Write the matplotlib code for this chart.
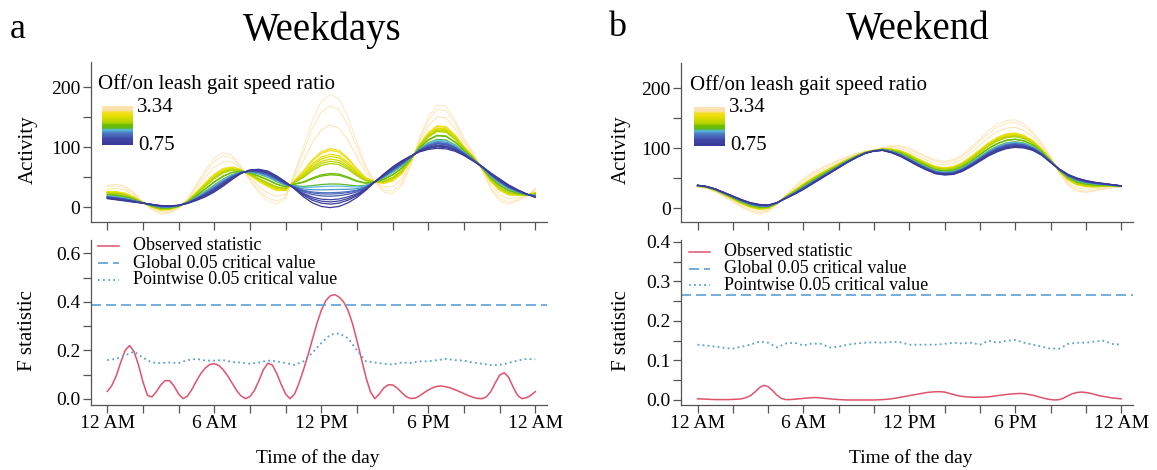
import numpy as np
import matplotlib
matplotlib.use("Agg")
import matplotlib.pyplot as plt
from matplotlib.colors import LinearSegmentedColormap

plt.rcParams["font.family"] = ["Liberation Serif", "DejaVu Serif"]

# hours of the day: half-hour grid for curves, quarter-hour for the F statistic
hours = np.arange(0, 24.5, 0.5)
hours_fine = np.arange(0, 24.25, 0.25)

# activity curves read at the two ends of the gait speed ratio
wd_low = [14, 12, 10, 8, 6.5, 4.5, 2.5, 2, 3, 6, 11, 17, 25, 35, 46, 56, 62, 63,
          60, 52, 42, 30, 17, 7, 1, -1, 1, 7, 16, 28, 42, 55, 67, 77, 85, 92,
          96, 98, 97, 93, 86, 77, 68, 57, 47, 37, 29, 22, 16]
wd_high = [36, 38, 35, 24, 8, -4, -12, -10, -2, 14, 38, 62, 82, 91, 86, 68, 44, 24,
           10, 5, 14, 58, 100, 145, 176, 188, 180, 150, 108, 68, 42, 25, 22, 35, 68, 115,
           150, 170, 168, 145, 115, 92, 62, 30, 10, 5, 10, 17, 32]
we_low = [38, 36, 32, 26, 20, 14, 9, 6, 5, 9, 16, 23, 31, 40, 49, 58, 67, 76,
          84, 91, 95, 96, 92, 86, 78, 70, 63, 57, 55, 56, 61, 69, 78, 87, 94, 99,
          101, 100, 96, 88, 76, 65, 56, 50, 46, 43, 41, 39, 37]
we_high = [35, 33, 27, 19, 10, 1, -6, -10, -6, 6, 22, 36, 49, 59, 67, 74, 80, 86,
           91, 95, 97, 101, 104, 104, 100, 93, 86, 80, 78, 81, 89, 101, 115, 129, 140, 146,
           147, 140, 127, 108, 86, 58, 38, 28, 26, 28, 31, 34, 35]

# off/on leash gait speed ratios of the dogs
ratios = [3.34, 3.08, 2.64, 2.10, 2.06, 1.97, 1.92, 1.86, 1.81, 1.76, 1.53,
          1.50, 1.29, 1.24, 1.16, 1.09, 1.06, 1.01, 0.93, 0.88, 0.83, 0.75]
ratio_min, ratio_max = 0.75, 3.34

# F statistics (observed on the quarter-hour grid, pointwise critical on the half-hour grid)
wd_obs = [0.031, 0.055, 0.095, 0.15, 0.2, 0.22, 0.195, 0.14, 0.07, 0.015, 0.008, 0.03,
          0.058, 0.076, 0.075, 0.052, 0.02, 0.001, 0.012, 0.04, 0.075, 0.105, 0.128, 0.142,
          0.145, 0.138, 0.12, 0.095, 0.065, 0.035, 0.012, 0.001, 0.01, 0.035, 0.075, 0.12,
          0.147, 0.14, 0.105, 0.06, 0.02, 0.001, 0.02, 0.065, 0.12, 0.18, 0.245, 0.31,
          0.365, 0.405, 0.425, 0.43, 0.42, 0.4, 0.365, 0.31, 0.24, 0.165, 0.09, 0.03,
          0.001, 0.02, 0.045, 0.058, 0.058, 0.045, 0.027, 0.01, 0.002, 0.003, 0.012, 0.025,
          0.037, 0.046, 0.052, 0.053, 0.05, 0.045, 0.038, 0.03, 0.022, 0.014, 0.007, 0.002,
          0.001, 0.008, 0.03, 0.065, 0.098, 0.108, 0.09, 0.05, 0.015, 0.001, 0.005, 0.015, 0.03]
wd_point = [0.16, 0.165, 0.18, 0.195, 0.17, 0.15, 0.148, 0.15, 0.148, 0.16, 0.165, 0.158,
            0.158, 0.16, 0.152, 0.15, 0.145, 0.15, 0.158, 0.155, 0.148, 0.14, 0.155, 0.19,
            0.23, 0.265, 0.27, 0.25, 0.20, 0.155, 0.15, 0.145, 0.142, 0.15, 0.148, 0.155,
            0.155, 0.16, 0.165, 0.16, 0.158, 0.15, 0.145, 0.14, 0.14, 0.148, 0.158, 0.165, 0.163]
wd_global = 0.388

we_obs = [0.003, 0.0025, 0.002, 0.0015, 0.001, 0.001, 0.001, 0.001, 0.0015, 0.002, 0.003, 0.006,
          0.011, 0.02, 0.031, 0.037, 0.034, 0.024, 0.012, 0.004, 0.001, 0.001, 0.002, 0.003,
          0.004, 0.005, 0.006, 0.006, 0.005, 0.004, 0.003, 0.002, 0.001, 0.0005, 0.0, 0.0,
          0.0, 0.0, 0.0, 0.0, 0.0, 0.0005, 0.001, 0.002, 0.003, 0.005, 0.007, 0.009,
          0.011, 0.013, 0.015, 0.017, 0.019, 0.02, 0.021, 0.021, 0.02, 0.017, 0.014, 0.011,
          0.009, 0.008, 0.007, 0.007, 0.007, 0.0075, 0.008, 0.0095, 0.011, 0.0125, 0.014, 0.015,
          0.016, 0.0165, 0.016, 0.014, 0.012, 0.009, 0.006, 0.003, 0.001, 0.0, 0.001, 0.005,
          0.011, 0.016, 0.019, 0.02, 0.019, 0.017, 0.014, 0.011, 0.009, 0.007, 0.005, 0.004, 0.003]
we_point = [0.14, 0.138, 0.135, 0.132, 0.13, 0.135, 0.14, 0.148, 0.145, 0.133, 0.143, 0.145,
            0.138, 0.143, 0.142, 0.133, 0.135, 0.14, 0.143, 0.145, 0.146, 0.145, 0.147, 0.146,
            0.14, 0.14, 0.14, 0.14, 0.142, 0.145, 0.143, 0.145, 0.14, 0.15, 0.145, 0.15,
            0.152, 0.145, 0.14, 0.135, 0.13, 0.13, 0.142, 0.145, 0.145, 0.148, 0.15, 0.142, 0.14]
we_global = 0.266

time_ticks = [0, 6, 12, 18, 24]
time_labels = ["12 AM", "6 AM", "12 PM", "6 PM", "12 AM"]

ratio_cmap = LinearSegmentedColormap.from_list("ratio", [
    (0.00, "#3B3A98"), (0.07, "#4046A6"), (0.12, "#4A6ABA"), (0.16, "#4F96D2"),
    (0.19, "#58BEE0"), (0.205, "#5CB830"), (0.30, "#6CBD00"), (0.40, "#B8D500"),
    (0.48, "#EEE000"), (0.56, "#F7DB40"), (0.64, "#FCDD95"), (1.00, "#FDE3B4")])

RED = "#DF536B"
BLUE = "#5A9FD6"
AXC = "#555555"

W, H = 1157, 470
fig = plt.figure(figsize=(W / 100, H / 100), dpi=100)


def px_axes(l, t, r, b):
    return fig.add_axes([l / W, 1 - b / H, (r - l) / W, (b - t) / H])


def px_text(x, y, s, **kw):
    fig.text(x / W, 1 - y / H, s, **kw)


def style(ax, yticks, ylabels, xlabels):
    for side in ("top", "right"):
        ax.spines[side].set_visible(False)
    for side in ("left", "bottom"):
        ax.spines[side].set_color(AXC)
        ax.spines[side].set_linewidth(0.9)
    ax.set_xlim(-0.92, 24.65)
    ax.set_xticks(range(0, 25, 2))
    ax.set_xticklabels([time_labels[time_ticks.index(h)] if (xlabels and h in time_ticks) else ""
                        for h in range(0, 25, 2)])
    ax.set_yticks(yticks)
    ax.set_yticklabels(ylabels)
    ax.tick_params(direction="out", length=5.5, width=0.9, color=AXC, labelsize=14, pad=2)


def fraction(r):
    return (r - ratio_min) / (ratio_max - ratio_min)


def activity_panel(ax, low, high, leg_x, leg_y):
    low = np.array(low, float)
    high = np.array(high, float)
    for r in ratios:
        f = fraction(r)
        ax.plot(hours, low + (high - low) * f, color=ratio_cmap(f),
                lw=0.9 if f < 0.6 else 0.7, alpha=1.0 if f < 0.6 else 0.85)
    # legend: gradient of the curve colours, sorted high to low
    cols = np.array([ratio_cmap(fraction(r))[:3] for r in sorted(ratios, reverse=True)])
    cax = px_axes(leg_x + 4, leg_y + 22, leg_x + 35, leg_y + 61)
    cax.imshow(cols[:, None, :], aspect="auto", interpolation="bilinear")
    cax.axis("off")
    px_text(leg_x, leg_y, "Off/on leash gait speed ratio", fontsize=15, va="center")
    px_text(leg_x + 39, leg_y + 23, "3.34", fontsize=15, va="center")
    px_text(leg_x + 40, leg_y + 61, "0.75", fontsize=15, va="center")


def fstat_panel(ax, obs, point, glob, leg_x, leg_y, dy):
    ax.plot(hours_fine, obs, color=RED, lw=1.1)
    ax.axhline(glob, color=BLUE, lw=1.2, linestyle=(0, (6, 3)))
    ax.plot(hours, point, color=BLUE, lw=1.3, linestyle=(0, (1, 1.8)))
    styles = [(RED, "-", 1.1), (BLUE, (0, (6, 3)), 1.2), (BLUE, (0, (1, 1.8)), 1.3)]
    names = ["Observed statistic", "Global 0.05 critical value", "Pointwise 0.05 critical value"]
    for i, ((c, ls, lw), name) in enumerate(zip(styles, names)):
        y = leg_y + i * dy
        fig.add_artist(plt.Line2D([leg_x / W, (leg_x + 21) / W], [1 - y / H, 1 - y / H],
                                  color=c, linestyle=ls, lw=lw))
        px_text(leg_x + 35, y, name, fontsize=13, va="center")


# panel a
ax1 = px_axes(90.9, 62, 546.9, 222)
activity_panel(ax1, wd_low, wd_high, 98, 84)
ax1.set_ylim(-25, 242)
style(ax1, range(0, 201, 50), ["0", "", "100", "", "200"], False)

ax2 = px_axes(90.9, 240, 546.9, 405)
fstat_panel(ax2, wd_obs, wd_point, wd_global, 98, 246, 17)
ax2.set_ylim(-0.025, 0.655)
style(ax2, np.arange(0, 0.61, 0.1), ["0.0", "", "0.2", "", "0.4", "", "0.6"], True)

# panel b
ax3 = px_axes(681.3, 63, 1132.6, 222)
activity_panel(ax3, we_low, we_high, 690, 85)
ax3.set_ylim(-23.3, 241.7)
style(ax3, range(0, 201, 50), ["0", "", "100", "", "200"], False)

ax4 = px_axes(681.3, 240, 1132.6, 405)
fstat_panel(ax4, we_obs, we_point, we_global, 689, 252, 16.5)
ax4.set_ylim(-0.0127, 0.405)
style(ax4, np.arange(0, 0.401, 0.05),
      ["0.0", "", "0.1", "", "0.2", "", "0.3", "", "0.4"], True)

for x in (28, 621):
    px_text(x, 150, "Activity", fontsize=15, rotation=90, ha="center", va="center")
    px_text(x, 331, "F statistic", fontsize=15, rotation=90, ha="center", va="center")
px_text(318, 458, "Time of the day", fontsize=14, ha="center", va="center")
px_text(911, 458, "Time of the day", fontsize=14, ha="center", va="center")

px_text(322, 30, "Weekdays", fontsize=28, ha="center", va="center")
px_text(918, 30, "Weekend", fontsize=28, ha="center", va="center")
px_text(18, 30, "a", fontsize=26, ha="center", va="center")
px_text(617, 28, "b", fontsize=26, ha="center", va="center")

fig.savefig("out.png", dpi=100)
